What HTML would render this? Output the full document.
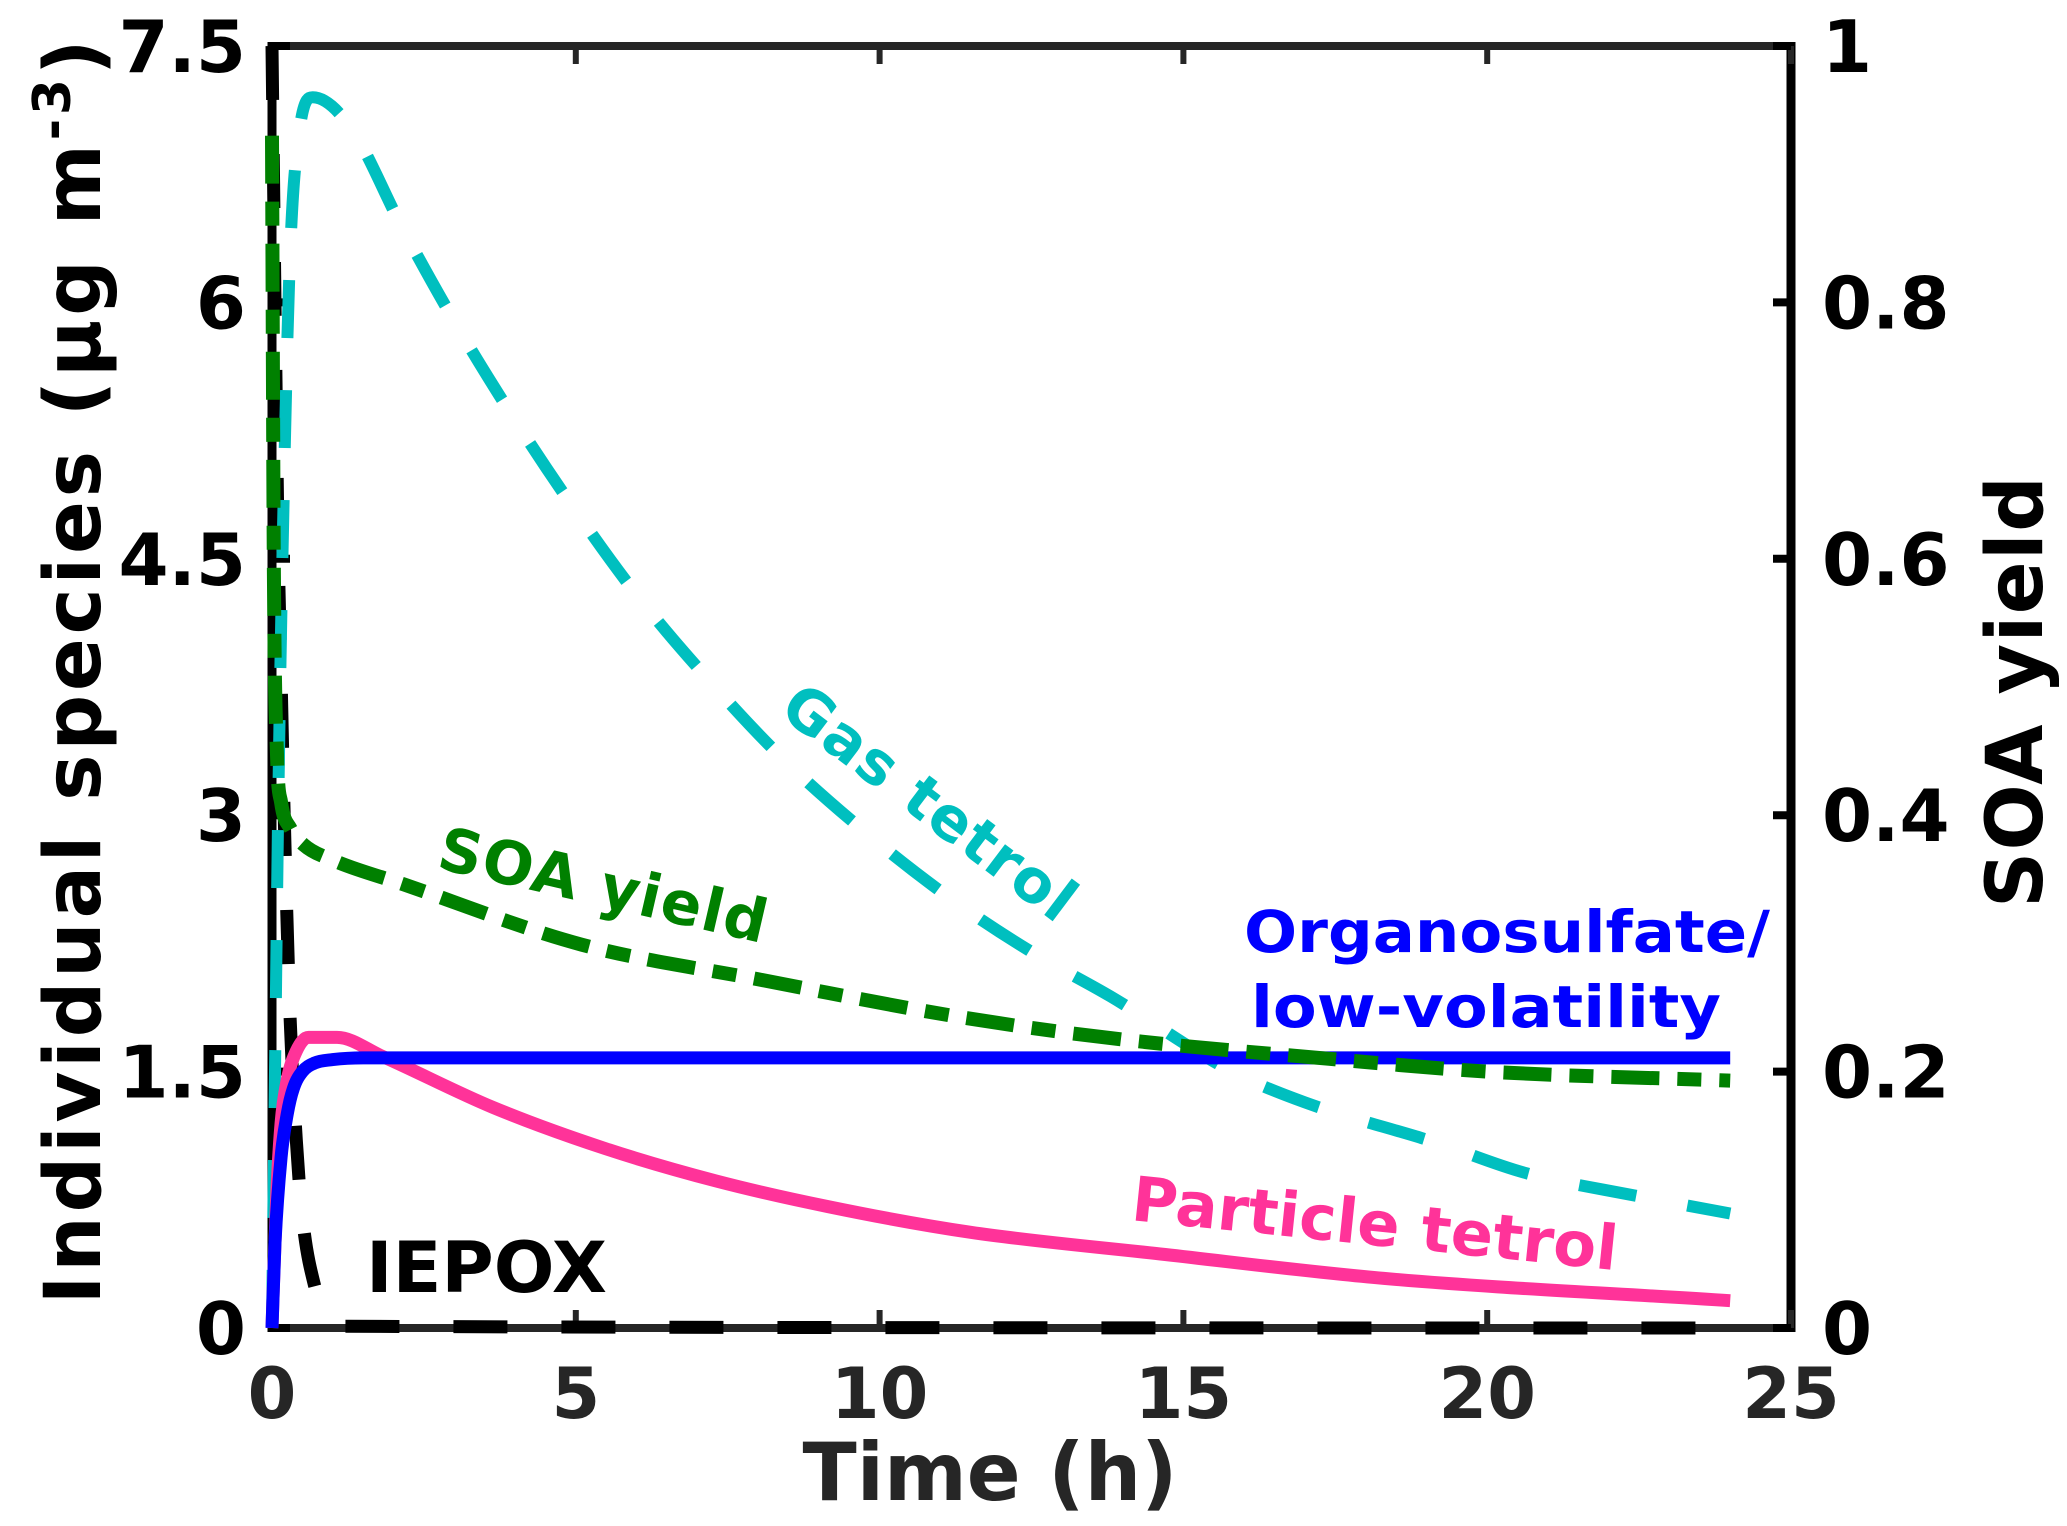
<!DOCTYPE html>
<html><head><meta charset="utf-8"><style>
html,body{margin:0;padding:0;background:#fff;}
svg{display:block;font-family:"DejaVu Sans","Liberation Sans",sans-serif;font-weight:bold;}
</style></head><body>
<svg id="chart" width="2067" height="1526" viewBox="0 0 2067 1526" xmlns="http://www.w3.org/2000/svg">
<g id="axes"></g>
<g id="series"></g>
<text x="0" y="0" transform="translate(929,803) rotate(37)" text-anchor="middle" dominant-baseline="central" font-size="60" fill="#00BFBF" textLength="350">Gas tetrol</text>
<text x="0" y="0" transform="translate(603,886) rotate(13)" text-anchor="middle" dominant-baseline="central" font-size="60" fill="#008000" textLength="335">SOA yield</text>
<text x="1244" y="952" font-size="58" fill="#0000FF" textLength="526" lengthAdjust="spacingAndGlyphs">Organosulfate/</text>
<text x="1251" y="1027" font-size="58" fill="#0000FF" textLength="470" lengthAdjust="spacingAndGlyphs">low-volatility</text>
<text x="0" y="0" transform="translate(1130,1220) rotate(5.9)" font-size="62" fill="#FF3399" textLength="488" lengthAdjust="spacingAndGlyphs">Particle tetrol</text>
<text x="366" y="1292" font-size="70" fill="#000" textLength="241" lengthAdjust="spacingAndGlyphs">IEPOX</text>
<text x="990" y="1500" text-anchor="middle" font-size="80" fill="#262626" textLength="375" lengthAdjust="spacingAndGlyphs">Time (h)</text>
<text x="0" y="0" transform="translate(100,672) rotate(-90)" text-anchor="middle" font-size="78" fill="#000" textLength="1265">Individual species (μg m<tspan dy="-30" font-size="52">-3</tspan><tspan dy="30">)</tspan></text>
<text x="0" y="0" transform="translate(2042,692) rotate(-90)" text-anchor="middle" font-size="78" fill="#000" textLength="432">SOA yield</text>
</svg>
<script>
const xTicks=[0,5,10,15,20,25];
const yLeftTicks=[0,1.5,3,4.5,6,7.5];
const yLeftLabels=["0","1.5","3","4.5","6","7.5"];
const yRightTicks=[0,0.2,0.4,0.6,0.8,1];
const yRightLabels=["0","0.2","0.4","0.6","0.8","1"];
const iepoxT=[0,0.05,0.1,0.15,0.2,0.3,0.4,0.5,0.7,0.9,1.2,24];
const iepoxV=[7.5,6.0,4.6,3.8,3.0,1.8,1.1,0.65,0.25,0.08,0.01,0];
const gasT=[0,0.05,0.1,0.2,0.3,0.45,0.67,1.28,2.14,3.0,3.93,4.92,6.0,7.14,8.38,9.7,11.1,12.5,13.8,15.8,17,19.2,20.6,22.5,24];
const gasV=[0,1.5,3,5.0,6.3,7.0,7.2,7.03,6.44,5.89,5.35,4.82,4.29,3.81,3.34,2.92,2.53,2.2,1.94,1.5,1.32,1.08,0.91,0.77,0.67];
const partT=[0,0.08,0.15,0.25,0.4,0.6,1.07,1.81,3.64,5.48,7.31,9.15,11.5,14.7,18.3,24];
const partV=[0,0.8,1.2,1.45,1.62,1.70,1.70,1.59,1.29,1.05,0.86,0.71,0.56,0.43,0.29,0.16];
const orgT=[0,0.05,0.15,0.25,0.35,0.5,0.7,1.0,1.5,24];
const orgV=[0,0.5,1.0,1.25,1.4,1.5,1.55,1.57,1.58,1.58];
const soaT=[0,0.03,0.08,0.15,0.3,0.52,1,2.17,5.1,8,11.4,14,17.4,20,24];
const soaY=[0.93,0.6,0.45,0.41,0.39,0.377,0.365,0.346,0.299,0.272,0.242,0.225,0.21,0.2,0.193];

const L=272,R=1791,T=46,B=1328;
const X=t=>L+t*(R-L)/25;
const YL=v=>B-v*(B-T)/7.5;
const YR=r=>B-r*(B-T)/1;
const NS="http://www.w3.org/2000/svg";
const series=document.getElementById('series');
const axes=document.getElementById('axes');
function mk(tag,attrs,parent){const e=document.createElementNS(NS,tag);for(const k in attrs)e.setAttribute(k,attrs[k]);parent.appendChild(e);return e;}
// monotone cubic interpolation path in pixel space
function smooth(ts,vs,yf){
  const xs=ts.map(X), ys=vs.map(yf), n=xs.length;
  const d=[],m=[];
  for(let i=0;i<n-1;i++)d.push((ys[i+1]-ys[i])/(xs[i+1]-xs[i]));
  m[0]=d[0];m[n-1]=d[n-2];
  for(let i=1;i<n-1;i++){m[i]=(d[i-1]*d[i]<=0)?0:(d[i-1]+d[i])/2;}
  for(let i=0;i<n-1;i++){
    if(d[i]===0){m[i]=0;m[i+1]=0;continue;}
    const a=m[i]/d[i],b=m[i+1]/d[i],s=a*a+b*b;
    if(s>9){const tt=3/Math.sqrt(s);m[i]=tt*a*d[i];m[i+1]=tt*b*d[i];}
  }
  let p='M'+xs[0].toFixed(1)+','+ys[0].toFixed(1);
  for(let i=0;i<n-1;i++){
    const h=(xs[i+1]-xs[i])/3;
    p+=' C'+(xs[i]+h).toFixed(1)+','+(ys[i]+m[i]*h).toFixed(1)+' '+(xs[i+1]-h).toFixed(1)+','+(ys[i+1]-m[i+1]*h).toFixed(1)+' '+xs[i+1].toFixed(1)+','+ys[i+1].toFixed(1);
  }
  return p;
}

// box
let b;
b=mk('line',{x1:L-4,y1:T,x2:R+4,y2:T,stroke:'#262626','stroke-width':8},axes);


b=mk('line',{x1:L-4,y1:B,x2:R+4,y2:B,stroke:'#262626','stroke-width':8},axes);


b=mk('line',{x1:L,y1:T-4,x2:L,y2:B+4,stroke:'#000','stroke-width':9},axes);


b=mk('line',{x1:R,y1:T-4,x2:R,y2:B+4,stroke:'#000','stroke-width':9},axes);



xTicks.forEach(t=>{
  let e=mk('line',{x1:X(t),y1:B,x2:X(t),y2:B-18,stroke:'#262626','stroke-width':6},axes);
  
  
  e=mk('line',{x1:X(t),y1:T,x2:X(t),y2:T+18,stroke:'#262626','stroke-width':6},axes);
  
  
  const tx=mk('text',{x:X(t),y:1418,'text-anchor':'middle','font-size':70,fill:'#262626'},axes);
  tx.textContent=String(t);
  
  
});
yLeftTicks.forEach((v,i)=>{
  const e=mk('line',{x1:L,y1:YL(v),x2:L+18,y2:YL(v),stroke:'#000','stroke-width':8},axes);
  
  
  const tx=mk('text',{x:246,y:YL(v)+26,'text-anchor':'end','font-size':72,fill:'#000'},axes);
  tx.textContent=yLeftLabels[i];
  
  
});
yRightTicks.forEach((r,i)=>{
  const e=mk('line',{x1:R,y1:YR(r),x2:R-18,y2:YR(r),stroke:'#000','stroke-width':8},axes);
  
  
  const tx=mk('text',{x:1822,y:YR(r)+26,'text-anchor':'start','font-size':72,fill:'#000'},axes);
  tx.textContent=yRightLabels[i];
  
  
});

let p;
p=mk('path',{d:smooth(iepoxT,iepoxV,YL),fill:'none',stroke:'#000','stroke-width':13,'stroke-dasharray':'54 54'},series);


p=mk('path',{d:smooth(gasT,gasV,YL),fill:'none',stroke:'#00BFBF','stroke-width':12,'stroke-dasharray':'58 52'},series);


p=mk('path',{d:smooth(partT,partV,YL),fill:'none',stroke:'#FF3399','stroke-width':13},series);


p=mk('path',{d:smooth(orgT,orgV,YL),fill:'none',stroke:'#0000FF','stroke-width':13},series);


p=mk('path',{d:smooth(soaT,soaY,YR),fill:'none',stroke:'#008000','stroke-width':14,'stroke-dasharray':'48 18 24 18'},series);


</script>
</body></html>
